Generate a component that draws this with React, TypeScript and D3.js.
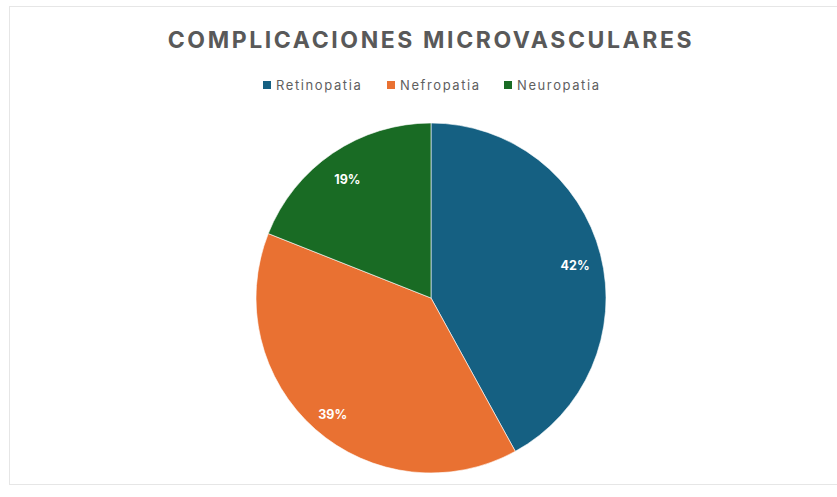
import React, { useEffect, useRef } from 'react';
import * as d3 from 'd3';

const categories = ['Retinopatia', 'Nefropatia', 'Neuropatia'];
const values = [42, 39, 19];
const colors = ['#156082', '#e97132', '#196b24'];
const title = 'COMPLICACIONES MICROVASCULARES';

const App: React.FC = () => {
  const svgRef = useRef<SVGSVGElement>(null);

  useEffect(() => {
    if (!svgRef.current) return;
    const svg = d3.select(svgRef.current);
    svg.selectAll('*').remove();

    const width = 837;
    const cx = 431;
    const cy = 298;
    const radius = 175;
    const font = 'Inter, "Liberation Sans", Arial, sans-serif';

    // chart frame
    svg.append('rect')
      .attr('x', 9.5)
      .attr('y', 6.5)
      .attr('width', width + 10)
      .attr('height', 478)
      .attr('fill', '#fff')
      .attr('stroke', '#e6e6e6')
      .attr('stroke-width', 1);

    // title
    svg.append('text')
      .attr('x', cx)
      .attr('y', 48)
      .attr('text-anchor', 'middle')
      .style('font-family', font)
      .style('font-size', '23px')
      .style('font-weight', 700)
      .style('letter-spacing', '2.6px')
      .style('fill', '#595959')
      .text(title);

    // legend
    const legendX = [263, 387, 504];
    const legend = svg.append('g');
    categories.forEach((c, i) => {
      const g = legend.append('g').attr('transform', `translate(${legendX[i]},85)`);
      g.append('rect')
        .attr('x', 0)
        .attr('y', -4)
        .attr('width', 8)
        .attr('height', 8)
        .attr('fill', colors[i]);
      g.append('text')
        .attr('x', 13)
        .attr('y', 4.5)
        .style('font-family', font)
        .style('font-size', '13px')
        .style('letter-spacing', '1.6px')
        .style('fill', '#5f5f5f')
        .text(c);
    });

    // pie
    const pie = d3.pie<number>().sort(null).value(d => d);
    const arcs = pie(values);
    const arc = d3.arc<d3.PieArcDatum<number>>().innerRadius(0).outerRadius(radius);
    const labelArc = d3.arc<d3.PieArcDatum<number>>().innerRadius(radius * 0.85).outerRadius(radius * 0.85);
    const total = d3.sum(values);

    const g = svg.append('g').attr('transform', `translate(${cx},${cy})`);
    g.selectAll('path')
      .data(arcs)
      .enter()
      .append('path')
      .attr('d', arc)
      .attr('fill', (_, i) => colors[i])
      .attr('stroke', '#fff')
      .attr('stroke-width', 0.6);

    g.selectAll('text.lbl')
      .data(arcs)
      .enter()
      .append('text')
      .attr('class', 'lbl')
      .attr('transform', d => {
        const [x, y] = labelArc.centroid(d);
        return `translate(${x},${y + 5})`;
      })
      .attr('text-anchor', 'middle')
      .attr('dy', '0.35em')
      .style('font-family', font)
      .style('font-size', '12.5px')
      .style('font-weight', 700)
      .style('fill', '#fff')
      .text(d => `${Math.round((d.data / total) * 100)}%`);
  }, []);

  return (
    <svg
      ref={svgRef}
      width={837}
      height={497}
      style={{ position: 'absolute', left: 0, top: 0, background: '#fff' }}
    />
  );
};

export default App;
